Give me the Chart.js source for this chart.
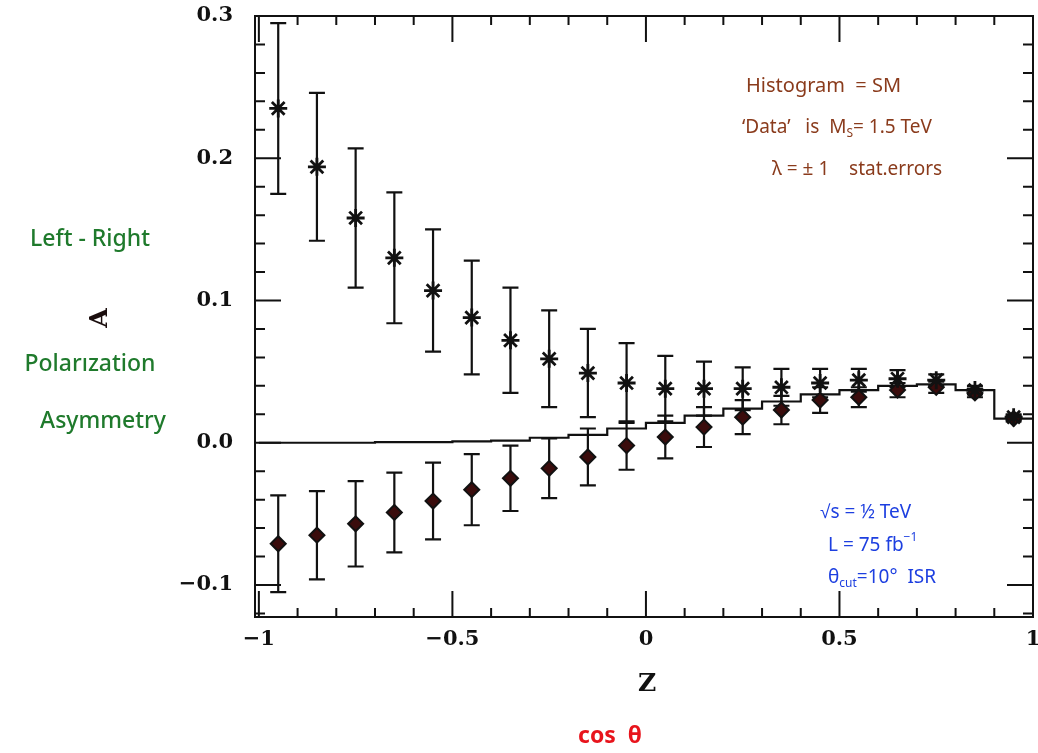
<!DOCTYPE html>
<html>
<head>
<meta charset="utf-8">
<script src="https://cdn.jsdelivr.net/npm/chart.js@4.4.1/dist/chart.umd.min.js"></script>
<style>
  html, body { margin: 0; padding: 0; background: #fff; overflow: hidden; }
  #wrap { width: 1038px; height: 753px; position: relative; }
</style>
</head>
<body>
<div id="wrap"><canvas id="chart"></canvas></div>
<script>
// bin centres in z = cos(theta)
const binCenters = [-0.95, -0.85, -0.75, -0.65, -0.55, -0.45, -0.35, -0.25, -0.15, -0.05,
                    0.05, 0.15, 0.25, 0.35, 0.45, 0.55, 0.65, 0.75, 0.85, 0.95];
// "Data" (lambda = +1 / -1)
const starValues = [0.235, 0.194, 0.158, 0.130, 0.107, 0.088, 0.072, 0.059, 0.049, 0.042,
                    0.038, 0.038, 0.038, 0.039, 0.042, 0.044, 0.045, 0.044, 0.037, 0.018];
const starErrors = [0.060, 0.052, 0.049, 0.046, 0.043, 0.040, 0.037, 0.034, 0.031, 0.028,
                    0.023, 0.019, 0.015, 0.013, 0.010, 0.008, 0.006, 0.004, 0.003, 0.002];
const diamondValues = [-0.071, -0.065, -0.057, -0.049, -0.041, -0.033, -0.025, -0.018, -0.010, -0.002,
                       0.004, 0.011, 0.018, 0.023, 0.030, 0.032, 0.037, 0.039, 0.035, 0.017];
const diamondErrors = [0.034, 0.031, 0.030, 0.028, 0.027, 0.025, 0.023, 0.021, 0.020, 0.017,
                       0.015, 0.014, 0.012, 0.010, 0.009, 0.007, 0.005, 0.004, 0.003, 0.002];
// SM histogram, bin edges and bin heights
const binEdges = [-1, -0.9, -0.8, -0.7, -0.6, -0.5, -0.4, -0.3, -0.2, -0.1,
                  0, 0.1, 0.2, 0.3, 0.4, 0.5, 0.6, 0.7, 0.8, 0.9, 1];
const smValues = [0, 0, 0, 0.0005, 0.0005, 0.001, 0.0015, 0.0035, 0.0056, 0.010,
                  0.014, 0.019, 0.024, 0.029, 0.034, 0.037, 0.040, 0.041, 0.037, 0.017];
const xTickValues = [-1, -0.5, 0, 0.5, 1];
const xTickLabels = ['\u22121', '\u22120.5', '0', '0.5', '1'];
const yTickValues = [-0.1, 0, 0.1, 0.2, 0.3];
const yTickLabels = ['\u22120.1', '0.0', '0.1', '0.2', '0.3'];

const histPoints = binEdges.map((x, i) => ({ x, y: smValues[Math.min(i, smValues.length - 1)] }));
const starPoints = binCenters.map((x, i) => ({ x, y: starValues[i], err: starErrors[i] }));
const diamondPoints = binCenters.map((x, i) => ({ x, y: diamondValues[i], err: diamondErrors[i] }));

const tickFont = { family: '"DejaVu Serif", serif', size: 21, weight: 'bold' };

// draws a run of pieces [text, fontSize, dy] left to right
function drawRun(ctx, pieces, x, y, family) {
  let cx = x;
  pieces.forEach(([t, size, dy]) => {
    ctx.font = size + 'px ' + family;
    ctx.fillText(t, cx, y + (dy || 0));
    cx += ctx.measureText(t).width;
  });
}

const errorBars = {
  id: 'errorBars',
  beforeDatasetsDraw(chart) {
    const { ctx, scales: { x, y } } = chart;
    ctx.save();
    ctx.strokeStyle = '#111';
    ctx.lineWidth = 2.2;
    chart.data.datasets.forEach(ds => {
      if (!ds.withErrors) return;
      ds.data.forEach(p => {
        const px = x.getPixelForValue(p.x);
        const top = y.getPixelForValue(p.y + p.err);
        const bot = y.getPixelForValue(p.y - p.err);
        ctx.beginPath();
        ctx.moveTo(px, top); ctx.lineTo(px, bot);
        ctx.moveTo(px - 8, top); ctx.lineTo(px + 8, top);
        ctx.moveTo(px - 8, bot); ctx.lineTo(px + 8, bot);
        ctx.stroke();
      });
    });
    ctx.restore();
  }
};

const frameTicks = {
  id: 'frameTicks',
  afterDraw(chart) {
    const { ctx, chartArea: a, scales: { x, y } } = chart;
    ctx.save();
    ctx.strokeStyle = '#111';
    ctx.lineWidth = 2;
    ctx.strokeRect(a.left, a.top, a.right - a.left, a.bottom - a.top);
    ctx.beginPath();
    for (let i = -10; i <= 10; i++) {
      const px = x.getPixelForValue(i / 10);
      const len = i % 5 === 0 ? 26 : 9;
      ctx.moveTo(px, a.bottom); ctx.lineTo(px, a.bottom - len);
      ctx.moveTo(px, a.top); ctx.lineTo(px, a.top + len);
    }
    for (let i = -6; i <= 15; i++) {
      const py = y.getPixelForValue(i / 50);
      const len = i % 5 === 0 ? 26 : 10;
      ctx.moveTo(a.left, py); ctx.lineTo(a.left + len, py);
      ctx.moveTo(a.right, py); ctx.lineTo(a.right - len, py);
    }
    ctx.stroke();

    // axis titles
    ctx.textAlign = 'center';
    ctx.textBaseline = 'middle';
    ctx.fillStyle = '#111';
    ctx.font = 'bold 25px "DejaVu Serif", serif';
    ctx.fillText('Z', 647, 684);
    ctx.fillStyle = '#e8141c';
    ctx.font = 'bold 23px "Noto Sans", sans-serif';
    ctx.fillText('cos  \u03b8', 610, 736);

    // y-axis title (green, handwritten in the original)
    ctx.fillStyle = '#1f7a2c';
    ctx.font = '500 23px "Noto Sans", sans-serif';
    ctx.fillText('Left - Right', 90, 239);
    ctx.fillText('Polar\u0131zation', 90, 364);
    ctx.fillText('Asymmetry', 103, 421);
    ctx.save();
    ctx.translate(100, 318);
    ctx.rotate(-Math.PI / 2);
    ctx.fillStyle = '#1a0d0d';
    ctx.font = 'bold 25px "DejaVu Serif", serif';
    ctx.fillText('A', 0, 0);
    ctx.restore();

    // annotations
    ctx.textAlign = 'left';
    const fam = '"Noto Sans", sans-serif';
    ctx.fillStyle = '#8a3b1c';
    drawRun(ctx, [['Histogram  = SM', 20]], 746, 86, fam);
    drawRun(ctx, [['\u2018Data\u2019   is  M', 19], ['S', 12, 6], ['= 1.5 TeV', 19]], 742, 128, fam);
    drawRun(ctx, [['\u03bb = \u00b1 1    stat.errors', 19]], 772, 170, fam);

    ctx.fillStyle = '#1d3fe0';
    drawRun(ctx, [['\u221as = \u00bd TeV', 19]], 820, 513, fam);
    drawRun(ctx, [['L = 75 fb', 19], ['\u22121', 12, -8]], 828, 546, fam);
    drawRun(ctx, [['\u03b8', 19], ['cut', 12, 6], ['=10\u00b0  ISR', 19]], 828, 578, fam);
    ctx.restore();
  }
};

new Chart(document.getElementById('chart'), {
  type: 'scatter',
  data: {
    datasets: [
      {
        label: 'SM',
        type: 'line',
        data: histPoints,
        stepped: 'before',
        borderColor: '#111',
        borderWidth: 2.2,
        pointRadius: 0,
        fill: false,
        order: 3
      },
      {
        label: 'Data lambda = +1',
        data: starPoints,
        withErrors: true,
        pointStyle: 'star',
        pointRadius: 9,
        borderColor: '#111',
        backgroundColor: '#111',
        borderWidth: 2.8,
        order: 1
      },
      {
        label: 'Data lambda = -1',
        data: diamondPoints,
        withErrors: true,
        pointStyle: 'rectRot',
        pointRadius: 7.5,
        borderColor: '#111',
        backgroundColor: '#3a0c0c',
        borderWidth: 2,
        order: 2
      }
    ]
  },
  options: {
    responsive: true,
    maintainAspectRatio: false,
    animation: false,
    layout: { padding: { top: 16, right: 0, left: 0, bottom: 0 } },
    plugins: {
      legend: { display: false },
      tooltip: { enabled: false }
    },
    scales: {
      x: {
        type: 'linear',
        min: -1.01,
        max: 1,
        grid: { display: false, drawTicks: false },
        border: { display: false },
        afterBuildTicks: s => { s.ticks = xTickValues.map(v => ({ value: v })); },
        afterFit: s => { s.height = 136; },
        ticks: {
          padding: 10,
          color: '#111',
          font: tickFont,
          maxRotation: 0,
          autoSkip: false,
          callback: v => xTickLabels[xTickValues.indexOf(v)]
        }
      },
      y: {
        type: 'linear',
        min: -0.1225,
        max: 0.3,
        grid: { display: false, drawTicks: false },
        border: { display: false },
        afterBuildTicks: s => { s.ticks = yTickValues.map(v => ({ value: v })); },
        afterFit: s => { s.width = 255; },
        ticks: {
          padding: 22,
          color: '#111',
          font: tickFont,
          autoSkip: false,
          callback: v => yTickLabels[yTickValues.indexOf(v)]
        }
      }
    }
  },
  plugins: [errorBars, frameTicks, {
    id: 'tightArea',
    // push the plot frame to the same edges as the original figure
    afterLayout(chart) {
      const a = chart.chartArea;
      a.top = 16;
      a.right = 1033;
      a.height = a.bottom - a.top;
      a.width = a.right - a.left;
      const xs = chart.scales.x;
      xs.right = 1033;
      xs.width = xs.right - xs.left;
      xs.configure();
      const ys = chart.scales.y;
      ys.top = 16;
      ys.height = ys.bottom - ys.top;
      ys.configure();
    }
  }]
});
</script>
</body>
</html>
